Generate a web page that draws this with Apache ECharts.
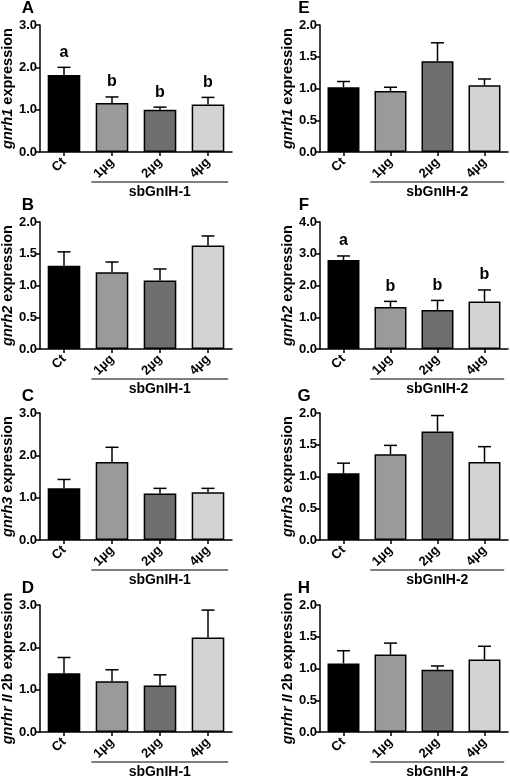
<!DOCTYPE html>
<html>
<head>
<meta charset="utf-8">
<script src="https://cdn.jsdelivr.net/npm/echarts@6/dist/echarts.min.js"></script>
<style>
html,body{margin:0;padding:0;background:#fff;}
#chart{width:510px;height:783px;}
</style>
</head>
<body>
<div id="chart"></div>
<script>
const categories = ['Ct', '1µg', '2µg', '4µg'];
const barColors = ['#000000', '#9a9a9a', '#6f6f6f', '#d3d3d3'];

const panelLetters = ['A', 'B', 'C', 'D', 'E', 'F', 'G', 'H'];
const geneItalic = ['gnrh1', 'gnrh2', 'gnrh3', 'gnrhr II', 'gnrh1', 'gnrh2', 'gnrh3', 'gnrhr II'];
const geneRest = [' expression', ' expression', ' expression', ' 2b expression', ' expression', ' expression', ' expression', ' 2b expression'];
const groupNames = ['sbGnIH-1', 'sbGnIH-1', 'sbGnIH-1', 'sbGnIH-1', 'sbGnIH-2', 'sbGnIH-2', 'sbGnIH-2', 'sbGnIH-2'];

const yMax = [3, 2, 3, 3, 2, 4, 2, 2];
const yInterval = [1, 0.5, 1, 1, 0.5, 1, 0.5, 0.5];

const meanA = [1.82, 1.16, 1.00, 1.12];
const errA  = [2.00, 1.30, 1.06, 1.29];
const sigA  = ['a', 'b', 'b', 'b'];
const meanB = [1.31, 1.21, 1.08, 1.63];
const errB  = [1.53, 1.37, 1.26, 1.78];
const meanC = [1.22, 1.84, 1.10, 1.13];
const errC  = [1.43, 2.19, 1.22, 1.22];
const meanD = [1.39, 1.20, 1.10, 2.23];
const errD  = [1.76, 1.47, 1.35, 2.88];
const meanE = [1.02, 0.96, 1.43, 1.05];
const errE  = [1.11, 1.02, 1.72, 1.15];
const meanF = [2.80, 1.32, 1.23, 1.50];
const errF  = [2.93, 1.50, 1.53, 1.86];
const sigF  = ['a', 'b', 'b', 'b'];
const meanG = [1.05, 1.35, 1.71, 1.23];
const errG  = [1.21, 1.49, 1.96, 1.47];
const meanH = [1.08, 1.22, 0.98, 1.14];
const errH  = [1.28, 1.40, 1.04, 1.35];

const means = [meanA, meanB, meanC, meanD, meanE, meanF, meanG, meanH];
const errs  = [errA, errB, errC, errD, errE, errF, errG, errH];
const sigs  = [sigA, null, null, null, null, sigF, null, null];

// layout
const rowTops = [25, 222, 413, 605];
const gridH = 127;
const colLeft = [40, 320];
const colWidth = [192, 188];
const letterX = [28, 304];

const FONT = '"Liberation Sans", Arial, sans-serif';

const grids = [], xAxes = [], yAxes = [], series = [], graphics = [];

for (let p = 0; p < 8; p++) {
  const col = p < 4 ? 0 : 1;
  const row = p % 4;
  grids.push({
    left: colLeft[col], top: rowTops[row], width: colWidth[col], height: gridH,
    containLabel: false, outerBoundsMode: 'none'
  });
  xAxes.push({
    type: 'category', gridIndex: p, data: categories,
    axisLine: { lineStyle: { color: '#000', width: 1.5 } },
    axisTick: { show: true, alignWithLabel: true, length: 4, lineStyle: { color: '#000', width: 1.5 } },
    axisLabel: { rotate: 45, margin: 8, color: '#000', fontWeight: 'bold', fontSize: 13, fontFamily: FONT, interval: 0 },
    splitLine: { show: false }
  });
  yAxes.push({
    type: 'value', gridIndex: p, min: 0, max: yMax[p], interval: yInterval[p],
    name: '{i|' + geneItalic[p] + '}{n|' + geneRest[p] + '}',
    nameLocation: 'middle', nameRotate: 90, nameGap: 22,
    nameTextStyle: {
      rich: {
        i: { fontStyle: 'italic', fontWeight: 'bold', fontSize: 14.5, fontFamily: FONT, color: '#000' },
        n: { fontWeight: 'bold', fontSize: 14.5, fontFamily: FONT, color: '#000' }
      }
    },
    axisLine: { show: true, lineStyle: { color: '#000', width: 1.5 } },
    axisTick: { show: true, length: 4, lineStyle: { color: '#000', width: 1.5 } },
    axisLabel: { margin: 3, color: '#000', fontWeight: 'bold', fontSize: 13, fontFamily: FONT,
      formatter: v => v.toFixed(1) },
    splitLine: { show: false }
  });
  series.push({
    type: 'bar', xAxisIndex: p, yAxisIndex: p, barWidth: '68%',
    data: means[p].map((v, i) => ({ value: v, itemStyle: { color: barColors[i] } })),
    itemStyle: { borderColor: '#000', borderWidth: 1.5 },
    emphasis: { disabled: true },
    z: 2
  });
  const sig = sigs[p];
  series.push({
    type: 'custom', xAxisIndex: p, yAxisIndex: p, z: 3,
    data: means[p].map((v, i) => [i, v, errs[p][i]]),
    renderItem: function (params, api) {
      const i = api.value(0), m = api.value(1), e = api.value(2);
      const p0 = api.coord([i, m]);
      const p1 = api.coord([i, e]);
      const children = [
        { type: 'line', shape: { x1: p0[0], y1: p0[1], x2: p1[0], y2: p1[1] }, style: { stroke: '#000', lineWidth: 1.5 } },
        { type: 'line', shape: { x1: p1[0] - 6.5, y1: p1[1], x2: p1[0] + 6.5, y2: p1[1] }, style: { stroke: '#000', lineWidth: 1.5 } }
      ];
      if (sig) {
        children.push({ type: 'text', style: { text: sig[params.dataIndex], x: p1[0], y: p1[1] - 15,
          align: 'center', verticalAlign: 'middle', fill: '#000', font: 'bold 16px ' + FONT } });
      }
      return { type: 'group', children: children };
    }
  });
  const gname = groupNames[p];
  series.push({
    type: 'custom', xAxisIndex: p, yAxisIndex: p, z: 3,
    data: [[1, 0]],
    renderItem: function (params, api) {
      const a = api.coord([1, 0]);
      const b = api.coord([3, 0]);
      const bw = api.size([1, 0])[0];
      const x1 = a[0] - 0.43 * bw, x2 = b[0] + 0.42 * bw;
      const y = a[1] + 30;
      return { type: 'group', children: [
        { type: 'line', shape: { x1: x1, y1: y, x2: x2, y2: y }, style: { stroke: '#000', lineWidth: 1 } },
        { type: 'text', style: { text: gname, x: (x1 + x2) / 2, y: y + 10, align: 'center', verticalAlign: 'middle',
          fill: '#000', font: 'bold 14px ' + FONT } }
      ] };
    }
  });
  graphics.push({
    type: 'text', x: letterX[col], y: rowTops[row] - 17,
    style: { text: panelLetters[p], align: 'center', verticalAlign: 'middle', fill: '#000', font: 'bold 17px ' + FONT }
  });
}

const chart = echarts.init(document.getElementById('chart'), null, { renderer: 'canvas' });
chart.setOption({
  animation: false,
  backgroundColor: '#fff',
  grid: grids,
  xAxis: xAxes,
  yAxis: yAxes,
  series: series,
  graphic: graphics
});
</script>
</body>
</html>
